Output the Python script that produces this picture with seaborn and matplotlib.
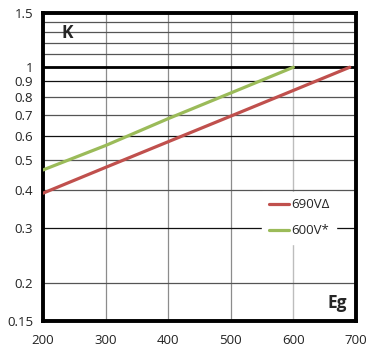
import matplotlib
matplotlib.use("Agg")
import matplotlib.pyplot as plt
import seaborn as sns
import pandas as pd
from matplotlib.ticker import FixedLocator, NullLocator, FixedFormatter

sns.set_theme(style="white")
plt.rcParams['font.family'] = ['Open Sans', 'DejaVu Sans']

eg_690 = [200, 300, 400, 500, 600, 690]
k_690 = [0.39, 0.473, 0.573, 0.694, 0.841, 1.0]
eg_600 = [200, 300, 400, 500, 600]
k_600 = [0.464, 0.557, 0.681, 0.825, 1.0]
series_names = ["690V\u0394", "600V*"]
x_ticks = [200, 300, 400, 500, 600, 700]
y_ticks = [0.15, 0.2, 0.3, 0.4, 0.5, 0.6, 0.7, 0.8, 0.9, 1, 1.5]
y_tick_labels = ["0.15", "0.2", "0.3", "0.4", "0.5", "0.6", "0.7", "0.8", "0.9", "1", "1.5"]
extra_grid = [1.1, 1.2, 1.3, 1.4]

df = pd.concat([
    pd.DataFrame({"Eg": eg_690, "K": k_690, "s": series_names[0]}),
    pd.DataFrame({"Eg": eg_600, "K": k_600, "s": series_names[1]}),
])

fig = plt.figure(figsize=(3.66, 3.49), dpi=100)
ax = fig.add_axes([43/366, 1 - 321/349, (356-43)/366, (321-13)/349])

ax.set_yscale("log")
ax.set_xlim(200, 700)
ax.set_ylim(0.15, 1.5)

# gridlines
for x in [300, 400, 500]:
    ax.axvline(x, color="#8c8c8c", lw=0.9, zorder=1)
ax.axvline(600, color="#bdbdbd", lw=1.0, zorder=1)
for y in y_ticks[1:-1] + extra_grid:
    ax.axhline(y, color="#555555" if y not in (0.3, 0.6, 0.9) else "#111111", lw=0.9, zorder=1)
ax.axhline(1, color="black", lw=2.0, zorder=2)

sns.lineplot(data=df, x="Eg", y="K", hue="s", palette=["#C0504D", "#9BBB59"],
             linewidth=2.3, ax=ax, zorder=3, legend=True)

ax.yaxis.set_major_locator(FixedLocator(y_ticks))
ax.yaxis.set_major_formatter(FixedFormatter(y_tick_labels))
ax.yaxis.set_minor_locator(NullLocator())
ax.set_xticks(x_ticks)
ax.tick_params(axis="both", length=0, labelsize=9.5, colors="#222222")
ax.tick_params(axis="x", pad=9.5)
ax.tick_params(axis="y", pad=7)
ax.set_xlabel("")
ax.set_ylabel("")
for sp in ax.spines.values():
    sp.set_color("black")
    sp.set_linewidth(2.8)

ax.text(0.06, 0.935, "K", transform=ax.transAxes, fontsize=12.5, fontweight="bold",
        ha="left", va="center")
ax.text(0.97, 0.06, "Eg", transform=ax.transAxes, fontsize=12.5, fontweight="bold",
        ha="right", va="center")

leg = ax.legend(loc="center left", bbox_to_anchor=(0.68, 0.335), frameon=True,
                fontsize=9.5, handlelength=1.5, handletextpad=0.15, labelspacing=1.0,
                borderpad=0.5, fancybox=False)
leg.get_frame().set_edgecolor("white")
leg.get_frame().set_facecolor("white")
leg.get_frame().set_alpha(1)
leg.set_zorder(5)

fig.savefig("out.png", dpi=100)
